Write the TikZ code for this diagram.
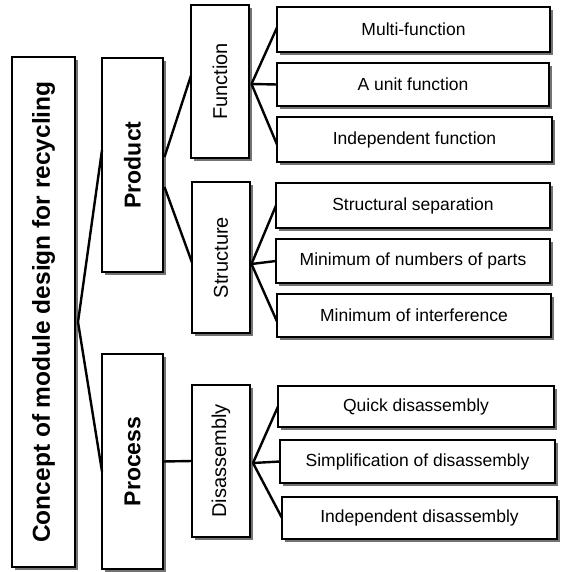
\documentclass[tikz,border=0pt]{standalone}
\usepackage{fontspec}
\setmainfont{Liberation Sans}
\usetikzlibrary{shadows,calc}
\tikzset{
  box/.style={draw, line width=1.8pt, fill=white, inner sep=0pt, outer sep=0pt,
    drop shadow={shadow xshift=3pt, shadow yshift=-3pt, fill=black!55, opacity=1}},
  conn/.style={line width=2.4pt},
  rootfont/.style={font=\fontsize{24.5}{28}\selectfont\bfseries},
  twofont/.style={font=\fontsize{23}{26}\selectfont\bfseries},
  threefont/.style={font=\fontsize{20}{24}\selectfont},
  leaffont/.style={font=\fontsize{17.5}{21}\selectfont},
}
\begin{document}
\begin{tikzpicture}[x=1pt,y=-1pt]
\useasboundingbox (0,0) rectangle (562,572);
% level 1
\node[box, rootfont, minimum width=63pt, minimum height=510pt] (root) at (43.5,312) {\rotatebox{90}{Concept of module design for recycling}};
% level 2
\node[box, twofont, minimum width=61pt, minimum height=214pt] (prod) at (132.5,165) {\rotatebox{90}{Product}};
\node[box, twofont, minimum width=61pt, minimum height=215pt] (proc) at (132.5,461.5) {\rotatebox{90}{Process}};
% level 3
\node[box, threefont, minimum width=58pt, minimum height=153pt] (func) at (220,81.5) {\rotatebox{90}{Function}};
\node[box, threefont, minimum width=58pt, minimum height=151pt] (struct) at (221,257.5) {\rotatebox{90}{Structure}};
\node[box, threefont, minimum width=58pt, minimum height=152pt] (dis) at (221,461) {\rotatebox{90}{Disassembly}};
% leaves
\node[box, leaffont, minimum width=273pt, minimum height=45pt] (multi) at (413.5,29.5) {Multi-function};
\node[box, leaffont, minimum width=272pt, minimum height=43pt] (unit) at (413,84.5) {A unit function};
\node[box, leaffont, minimum width=275pt, minimum height=45pt] (indf) at (414.5,139.5) {Independent function};
\node[box, leaffont, minimum width=274pt, minimum height=45pt] (ss) at (413,205.5) {Structural separation};
\node[box, leaffont, minimum width=274pt, minimum height=44pt] (mn) at (413,261) {Minimum of numbers of parts};
\node[box, leaffont, minimum width=274pt, minimum height=43pt] (mi) at (414,315.5) {Minimum of interference};
\node[box, leaffont, minimum width=276pt, minimum height=41pt] (qd) at (416,406.5) {Quick disassembly};
\node[box, leaffont, minimum width=275pt, minimum height=43pt] (sd) at (417.5,461.5) {Simplification of disassembly};
\node[box, leaffont, minimum width=275pt, minimum height=42pt] (idis) at (419.5,518) {Independent disassembly};
% fork points
\coordinate (rf) at (78,322);
\coordinate (pf1) at (164.5,157);
\coordinate (pf2) at (164.5,187);
\coordinate (ff) at (251.5,84);
\coordinate (sf) at (251.5,264);
\coordinate (df) at (253,463);
% connectors
\draw[conn] (rf) -- ($(prod.west)+(0,-15)$);
\draw[conn] (rf) -- ($(proc.west)+(0,10)$);
\draw[conn] (pf1) -- ($(func.west)+(0,-6)$);
\draw[conn] (pf2) -- ($(struct.west)+(0,5)$);
\draw[conn] (proc.east) -- (dis.west);
\draw[conn] (ff) -- ($(multi.west)+(0,-2)$);
\draw[conn] (ff) -- (unit.west);
\draw[conn] (ff) -- ($(indf.west)+(0,5)$);
\draw[conn] (sf) -- (ss.west);
\draw[conn] (sf) -- (mn.west);
\draw[conn] (sf) -- ($(mi.west)+(0,6)$);
\draw[conn] (df) -- (qd.west);
\draw[conn] (df) -- (sd.west);
\draw[conn] (df) -- (idis.west);
\end{tikzpicture}
\end{document}
